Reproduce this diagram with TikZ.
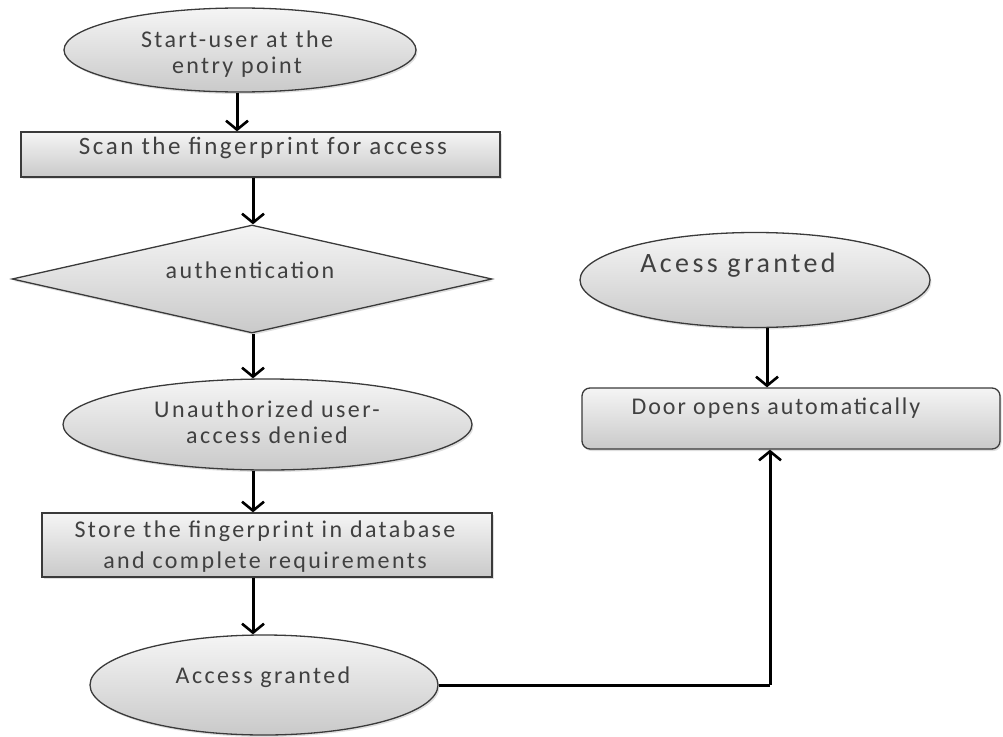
\documentclass[tikz,border=0pt]{standalone}
\usepackage{fontspec}
\setmainfont{Carlito}
\usetikzlibrary{shapes.geometric,arrows.meta,shadows,calc}
\definecolor{txtgray}{HTML}{404040}
\definecolor{edgegray}{HTML}{3A3A3A}
\newfontfamily\wideA[LetterSpace=10]{Carlito}
\newfontfamily\wideB[LetterSpace=12]{Carlito}
\newfontfamily\wideC[LetterSpace=8]{Carlito}
\tikzset{
  shapebase/.style={draw=edgegray, line width=1.3pt, top color=gray!8, bottom color=gray!42,
    inner sep=0pt, drop shadow={shadow xshift=1.5pt, shadow yshift=-2pt, opacity=0.25}},
  term/.style={shapebase, ellipse},
  procbox/.style={shapebase, rectangle},
  roundbox/.style={shapebase, rectangle, rounded corners=8pt},
  decis/.style={shapebase, diamond},
  txt/.style={text=txtgray, font=\wideA\fontsize{24}{26}\selectfont, align=center, inner sep=0pt},
  arr/.style={line width=3pt, black, -{Straight Barb[length=9pt,width=22pt,line width=2.6pt]}},
  plainline/.style={line width=3pt, black}
}
\begin{document}
\begin{tikzpicture}[x=1pt,y=-1pt]
\useasboundingbox (0,0) rectangle (1003,736);
% shapes
\node[term, minimum width=352pt, minimum height=84pt] (s1) at (240,50) {};
\node[procbox, minimum width=479pt, minimum height=45pt] (s2) at (260.5,154.5) {};
\node[decis, minimum width=480pt, minimum height=108pt] (s3) at (252,279) {};
\node[term, minimum width=409pt, minimum height=91pt] (s4) at (267.5,424.5) {};
\node[procbox, minimum width=450pt, minimum height=64pt] (s5) at (267,545) {};
\node[term, minimum width=348pt, minimum height=100pt] (s6) at (264,685) {};
\node[term, minimum width=350pt, minimum height=95pt] (r1) at (755,280) {};
\node[roundbox, minimum width=418pt, minimum height=61pt] (r2) at (791,418.5) {};
% texts
\node[txt] (t1) at (237,54) {Start-user at the\\entry point};
\node[txt, font=\wideA\fontsize{25}{26}\selectfont] (t2) at (263,148) {Scan the fingerprint for access};
\node[txt] (t3) at (250,270) {authentication};
\node[txt] (t4) at (267,422) {Unauthorized user-\\access denied};
\node[txt, font=\wideA\fontsize{24}{31}\selectfont] (t5) at (265,547) {Store the fingerprint in database\\and complete requirements};
\node[txt] (t6) at (263,677) {Access granted};
\node[txt, font=\wideB\fontsize{28}{30}\selectfont] (t7) at (738,265) {Acess granted};
\node[txt, font=\wideC\fontsize{24}{28}\selectfont] (t8) at (776,408) {Door opens automatically};
% connectors
\draw[arr] (237,0 |- s1.south) -- (237,0 |- s2.north);
\draw[arr] (253,0 |- s2.south) -- (253,0 |- s3.north);
\draw[arr] (253,0 |- s3.south) -- (253,0 |- s4.north);
\draw[arr] (253,0 |- s4.south) -- (253,0 |- s5.north);
\draw[arr] (253,0 |- s5.south) -- (253,0 |- s6.north);
\draw[arr] (767,0 |- r1.south) -- (767,0 |- r2.north);
\coordinate (bend) at (770,0 |- s6.east);
\draw[plainline] (s6.east) -- (bend);
\draw[arr] (bend) -- (770,0 |- r2.south);
\end{tikzpicture}
\end{document}
